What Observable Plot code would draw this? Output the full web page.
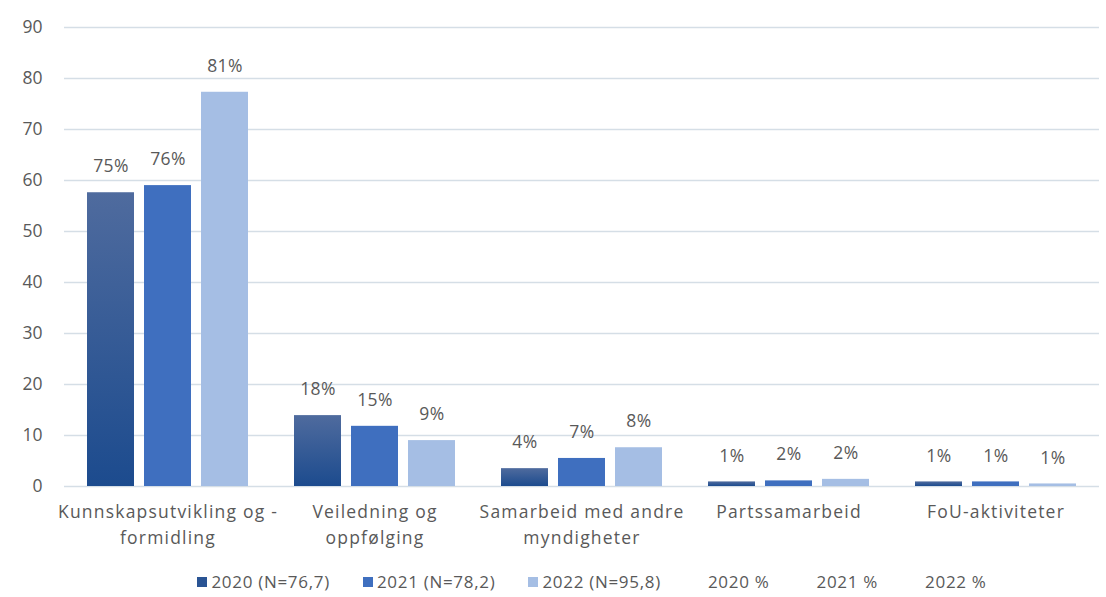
<!DOCTYPE html>
<html><head><meta charset="utf-8">
<script src="https://cdn.jsdelivr.net/npm/d3@7"></script>
<script src="https://cdn.jsdelivr.net/npm/@observablehq/plot@0.6"></script>
<style>
body{margin:0;background:#fff;font-family:"Open Sans",sans-serif;}
#legend{display:flex;justify-content:center;align-items:center;gap:33px;height:33px;margin-top:9px;font-size:17px;letter-spacing:0.7px;color:#595959;padding-left:78px;}
#legend .item{display:flex;align-items:center;gap:4px;}
#legend .sw{width:10px;height:10px;display:inline-block;}
.fxlab text{letter-spacing:1.2px;}
.pctlab text{letter-spacing:0.4px;}
</style></head><body>
<div id="chart"></div>
<div id="legend"></div>
<script>
const categories = ["Kunnskapsutvikling og - formidling","Veiledning og oppfølging","Samarbeid med andre myndigheter","Partssamarbeid","FoU-aktiviteter"];
const categoryLabels = ["Kunnskapsutvikling og -\nformidling","Veiledning og\noppfølging","Samarbeid med andre\nmyndigheter","Partssamarbeid","FoU-aktiviteter"];
const years = ["2020","2021","2022"];
const values2020 = [57.6, 13.9, 3.5, 0.9, 0.9];
const values2021 = [59.0, 11.8, 5.5, 1.1, 0.9];
const values2022 = [77.3, 9.0, 7.6, 1.4, 0.5];
const pct2020 = ["75%","18%","4%","1%","1%"];
const pct2021 = ["76%","15%","7%","2%","1%"];
const pct2022 = ["81%","9%","8%","2%","1%"];
const yTicks = [0,10,20,30,40,50,60,70,80,90];
const legendLabels = ["2020 (N=76,7)","2021 (N=78,2)","2022 (N=95,8)","2020 %","2021 %","2022 %"];
const barColors = ["url(#g2020)","#3f6fbf","#a5bee4"];
const swatchColors = ["#2a5494","#3f6fbf","#a5bee4","transparent","transparent","transparent"];

const valueSets = [values2020, values2021, values2022];
const pctSets = [pct2020, pct2021, pct2022];
const data = categories.flatMap((c,i)=>years.map((y,j)=>({cat:c, year:y, value:valueSets[j][i], pct:pctSets[j][i]})));
const labelOf = new Map(categories.map((c,i)=>[c, categoryLabels[i]]));

const chart = Plot.plot({
  width:1106, height:556,
  marginLeft:62, marginRight:6, marginTop:27, marginBottom:70,
  style:{fontFamily:"'Open Sans', sans-serif", fontSize:"17px", color:"#595959", background:"#fff"},
  fx:{domain:categories, padding:0, label:null, axis:null},
  x:{domain:years, paddingInner:0.17, paddingOuter:0.37, axis:null},
  y:{domain:[0,90], label:null, axis:null},
  color:{domain:years, range:barColors},
  marks:[
    Plot.gridY(yTicks, {stroke:"#d5dee6", strokeOpacity:1, strokeWidth:1.3}),
    Plot.axisY({ticks:yTicks, tickSize:0, tickPadding:22, label:null, fontSize:17.5, fill:"#595959"}),
    Plot.axisFx({anchor:"bottom", tickSize:0, tickPadding:13, label:null, lineHeight:1.5, fontSize:17.5, fill:"#595959", className:"fxlab", tickFormat:d=>labelOf.get(d)}),
    Plot.barY(data, {fx:"cat", x:"year", y:"value", fill:"year"}),
    Plot.text(data, {fx:"cat", x:"year", y:"value", text:"pct", dy:-26, fill:"#595959", fontSize:17.5, className:"pctlab"})
  ]
});

const svg = d3.select(chart.tagName.toLowerCase()==="svg" ? chart : chart.querySelector("svg"));
const defs = svg.insert("defs", ":first-child");
const g = defs.append("linearGradient").attr("id","g2020").attr("x1",0).attr("y1",0).attr("x2",0).attr("y2",1);
g.append("stop").attr("offset","0%").attr("stop-color","#4f6b9e");
g.append("stop").attr("offset","100%").attr("stop-color","#1c4b8e");
document.getElementById("chart").appendChild(chart);

const legend = document.getElementById("legend");
legendLabels.forEach((l,i)=>{
  const it = document.createElement("div"); it.className="item";
  const s=document.createElement("span"); s.className="sw"; s.style.background=swatchColors[i]; it.appendChild(s);
  const t=document.createElement("span"); t.textContent=l; it.appendChild(t);
  legend.appendChild(it);
});
</script>
</body></html>
